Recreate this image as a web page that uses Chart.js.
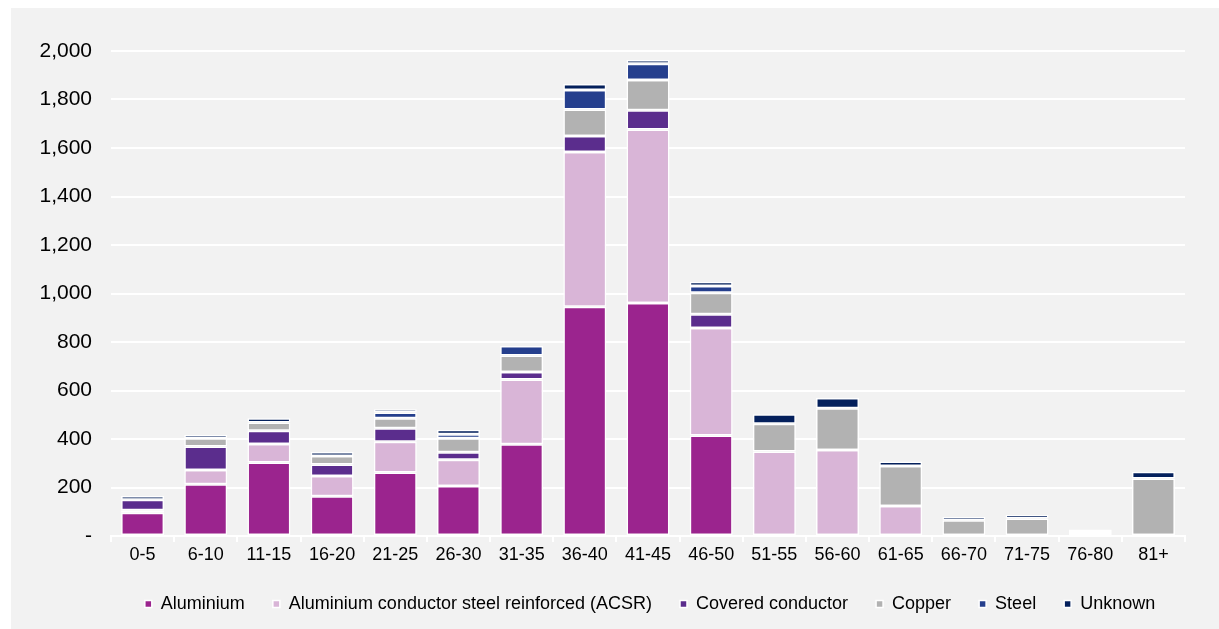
<!DOCTYPE html>
<html>
<head>
<meta charset="utf-8">
<script src="https://cdn.jsdelivr.net/npm/chart.js@4/dist/chart.umd.min.js"></script>
<style>
  html, body { margin: 0; padding: 0; background: #ffffff; }
  #wrap { width: 1219px; height: 629px; }
</style>
</head>
<body>
<div id="wrap"><canvas id="chart" width="1219" height="629"></canvas></div>
<script>
// Conductor age bands (years)
const categories = ['0-5','6-10','11-15','16-20','21-25','26-30','31-35','36-40','41-45','46-50','51-55','56-60','61-65','66-70','71-75','76-80','81+'];

// Length by conductor type, per age band
const aluminium = [96, 213, 303, 164, 262, 206, 378, 945, 961, 414, null, null, null, null, null, null, null];
const acsr      = [10, 59, 76, 83, 127, 108, 267, 638, 715, 444, 348, 355, 124, null, null, null, null];
const covered   = [43, 97, 55, 48, 55, 31, 31, 66, 80, 56, null, null, null, null, null, null, null];
const copper    = [null, 34, 34, 35, 42, 58, 68, 110, 124, 89, 115, 172, 165, 65, 72, 16, 237];
const steel     = [null, null, null, null, 23, 17, 39, 80, 67, 28, null, null, null, null, null, null, null];
const unknown   = [16, 15, 18, 16, 14, 18, null, 25, 16, 17, 39, 42, 18, 14, 16, 11, 28];

// Y-axis tick values
const yTicks = [0, 200, 400, 600, 800, 1000, 1200, 1400, 1600, 1800, 2000];

const seriesDefs = [
  { label: 'Aluminium', data: aluminium, color: '#9B248E' },
  { label: 'Aluminium conductor steel reinforced (ACSR)', data: acsr, color: '#D9B5D7' },
  { label: 'Covered conductor', data: covered, color: '#5B2D8D' },
  { label: 'Copper', data: copper, color: '#B2B2B2' },
  { label: 'Steel', data: steel, color: '#253F8D' },
  { label: 'Unknown', data: unknown, color: '#04205C' }
];

const FONT = "'Liberation Sans', Arial, sans-serif";

// Panel background with a thin white margin on the top and left
const panelBg = {
  id: 'panelBg',
  beforeDraw(chart) {
    const { ctx, width, height } = chart;
    ctx.save();
    ctx.fillStyle = '#ffffff';
    ctx.fillRect(0, 0, width, height);
    ctx.fillStyle = '#F2F2F2';
    ctx.fillRect(11, 8, width - 11, height - 8);
    ctx.restore();
  }
};

// Nudge the legend row to the right of the plot centre
const legendShift = {
  id: 'legendShift',
  afterLayout(chart) {
    const lg = chart.legend;
    if (lg) { lg.left += 52; lg.right += 52; }
  }
};

new Chart(document.getElementById('chart'), {
  type: 'bar',
  data: {
    labels: categories,
    datasets: seriesDefs.map(s => ({
      label: s.label,
      data: s.data,
      backgroundColor: s.color,
      borderColor: '#ffffff',
      borderWidth: 1.5,
      borderSkipped: false,
      barPercentage: 0.68,
      categoryPercentage: 1.0
    }))
  },
  options: {
    responsive: false,
    animation: false,
    layout: { padding: { left: 11, top: 51, right: 34, bottom: 6 } },
    plugins: {
      legend: {
        position: 'bottom',
        labels: {
          boxWidth: 7,
          boxHeight: 7,
          padding: 28,
          color: '#000000',
          font: { family: FONT, size: 18 }
        }
      },
      tooltip: { enabled: false }
    },
    scales: {
      x: {
        stacked: true,
        grid: {
          offset: true,
          drawOnChartArea: false,
          color: '#ffffff',
          lineWidth: 2,
          tickLength: 6
        },
        border: { color: '#ffffff', width: 2 },
        ticks: {
          color: '#000000',
          font: { family: FONT, size: 18 },
          padding: 2,
          maxRotation: 0
        },
        afterFit(scale) { scale.height = 31; }
      },
      y: {
        stacked: true,
        min: 0,
        max: 2000,
        afterBuildTicks(scale) { scale.ticks = yTicks.map(v => ({ value: v })); },
        grid: { color: '#ffffff', lineWidth: 2, drawTicks: false },
        border: { display: false },
        ticks: {
          color: '#000000',
          font: { family: FONT, size: 21 },
          padding: 19,
          callback: v => v === 0 ? '-' : v.toLocaleString('en-US')
        },
        afterFit(scale) { scale.width = 100; }
      }
    }
  },
  plugins: [panelBg, legendShift]
});
</script>
</body>
</html>
